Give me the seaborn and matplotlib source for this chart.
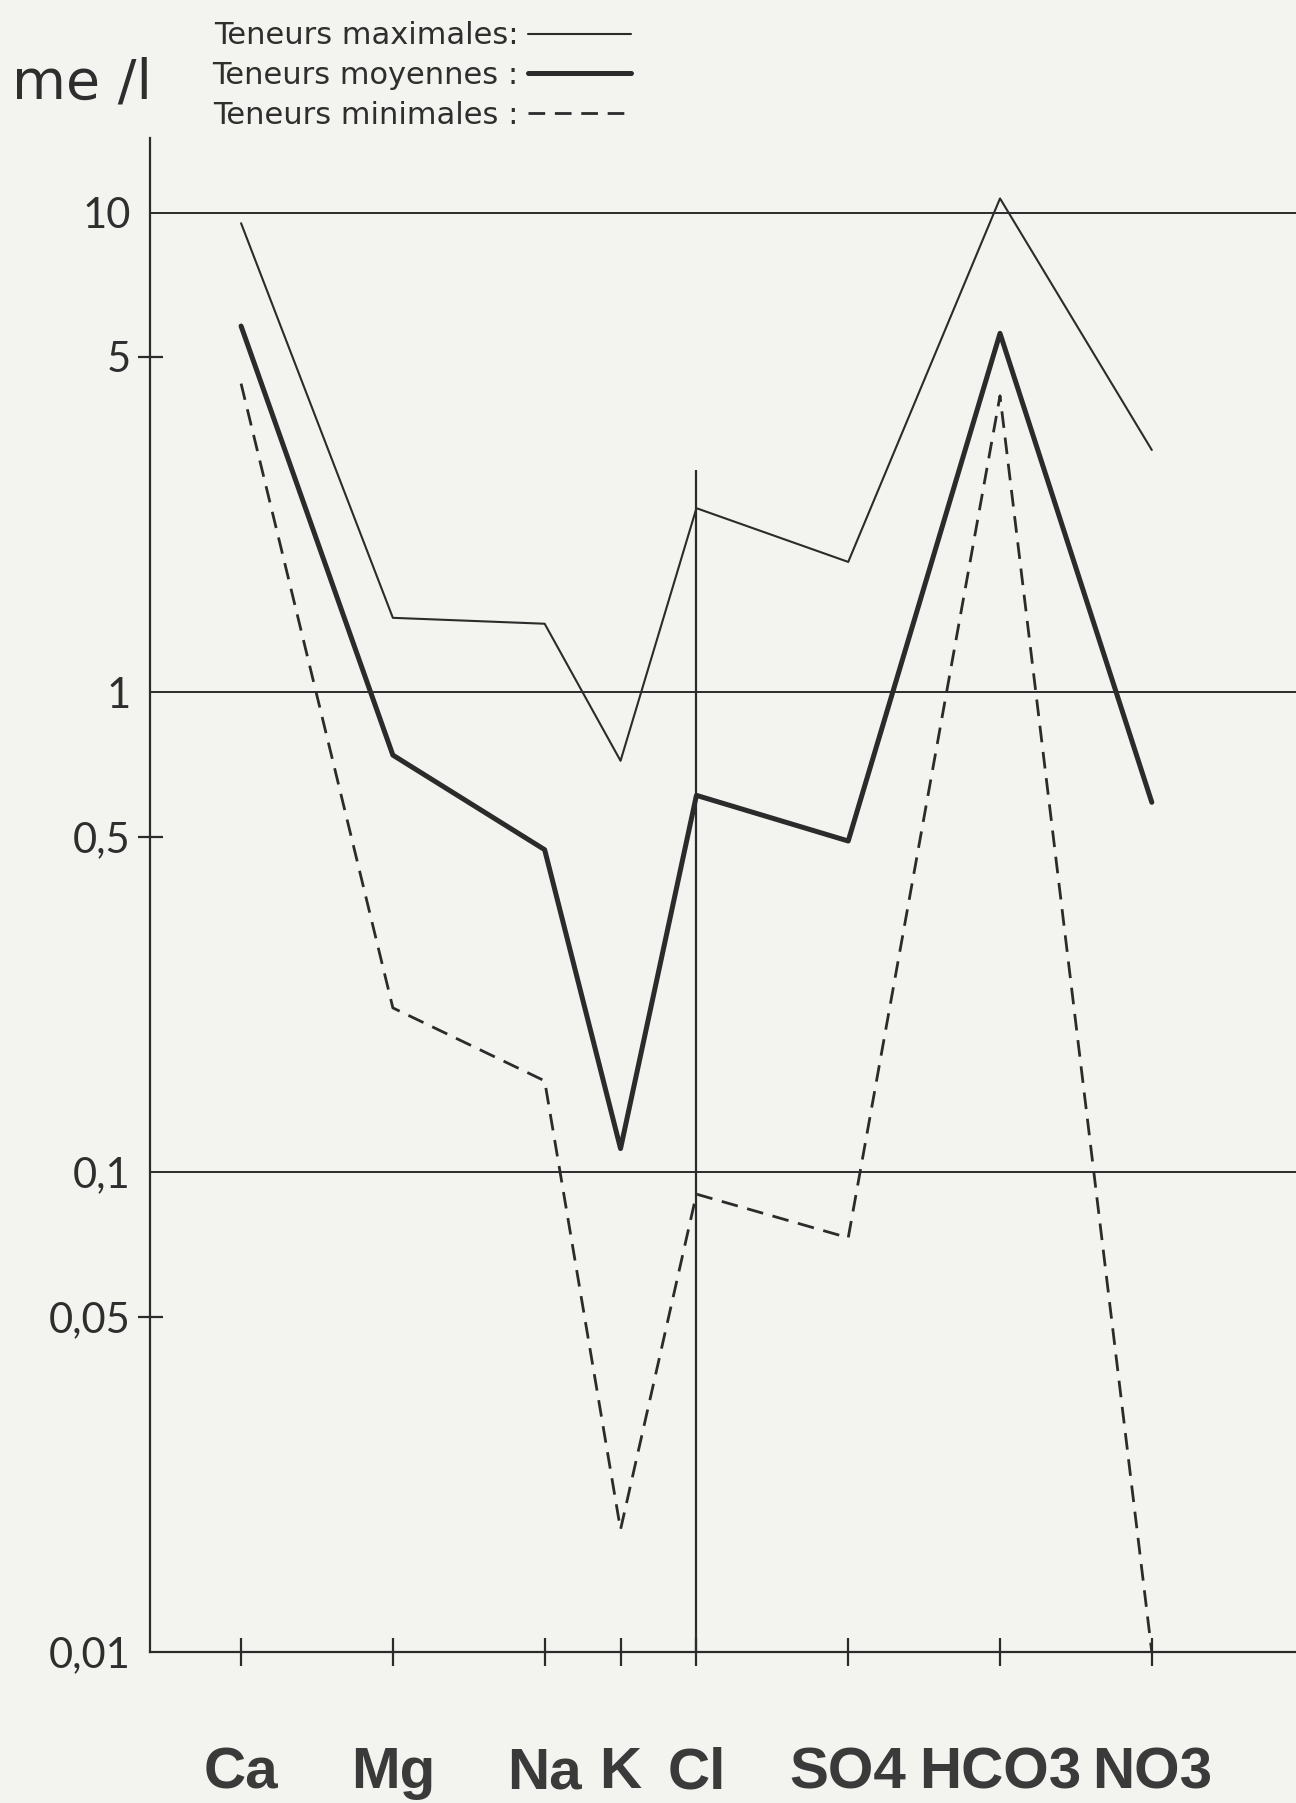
import numpy as np
import pandas as pd
import matplotlib.pyplot as plt
import seaborn as sns
from matplotlib.ticker import FixedLocator, NullFormatter

# Diagramme de Schoeller - teneurs en me/l

ions = ["Ca", "Mg", "Na", "K", "Cl", "SO4", "HCO3", "NO3"]
ion_pos = [0, 2, 4, 5, 6, 8, 10, 12]

teneurs_max = [9.5, 1.43, 1.39, 0.72, 2.42, 1.87, 10.7, 3.2]
teneurs_moy = [5.8, 0.74, 0.47, 0.112, 0.61, 0.49, 5.6, 0.59]
teneurs_min = [4.4, 0.22, 0.155, 0.018, 0.09, 0.073, 4.15, 0.01]

y_ticks = [0.01, 0.05, 0.1, 0.5, 1, 5, 10]
y_labels = ["0,01", "0,05", "0,1", "0,5", "1", "5", "10"]
y_marks = [0.05, 0.5, 5]
grid_levels = [0.1, 1, 10]

paper = "#f3f4ef"
ink = "#2b2b2b"

sns.set_style("white")
plt.rcParams["font.family"] = ["Lato", "DejaVu Sans"]

fig = plt.figure(figsize=(12.96, 18.03), dpi=100, facecolor=paper)
ax = fig.add_axes([150 / 1296, 1 - 1652 / 1803, 1 - 150 / 1296, (1652 - 138) / 1803])
ax.set_facecolor(paper)

df = pd.DataFrame({"pos": ion_pos, "max": teneurs_max, "moy": teneurs_moy, "min": teneurs_min})

sns.lineplot(data=df, x="pos", y="max", ax=ax, color=ink, linewidth=1.5,
             label="Teneurs maximales:")
sns.lineplot(data=df, x="pos", y="moy", ax=ax, color=ink, linewidth=3.6,
             label="Teneurs moyennes :")
sns.lineplot(data=df, x="pos", y="min", ax=ax, color=ink, linewidth=2.0,
             linestyle=(0, (6, 3.5)), label="Teneurs minimales :")

ax.set_yscale("log")
ax.set_ylim(0.01, 14.3)
ax.set_xlim(-1.2, 13.9)

for lev in grid_levels:
    ax.axhline(lev, color=ink, linewidth=1.4, zorder=1)
# axe separant cations et anions
ax.vlines(ion_pos[ions.index("Cl")], 0.01, 2.9, color=ink, linewidth=1.6)

for s in ["top", "right"]:
    ax.spines[s].set_visible(False)
for s in ["left", "bottom"]:
    ax.spines[s].set_color(ink)
    ax.spines[s].set_linewidth(1.6)

ax.yaxis.set_major_locator(FixedLocator(y_ticks))
ax.set_yticklabels(y_labels)
ax.yaxis.set_minor_locator(FixedLocator(y_marks))
ax.yaxis.set_minor_formatter(NullFormatter())
ax.yaxis.remove_overlapping_locs = False
ax.tick_params(axis="y", which="both", left=True)
ax.tick_params(axis="y", which="major", length=0, pad=14, labelsize=30,
               labelcolor="#2e2e2e")
ax.tick_params(axis="y", which="minor", length=18, width=1.6, color=ink,
               direction="inout")

ax.set_xticks(ion_pos)
ax.set_xticklabels(ions, fontfamily="Liberation Sans", fontweight="bold",
                   fontsize=42, color="#3a3a3a")
ax.tick_params(axis="x", bottom=True, length=20, width=1.6, color=ink,
               direction="inout", pad=58)

ax.set_xlabel("")
ax.set_ylabel("")

fig.text(12 / 1296, 1 - 84 / 1803, "me /l", fontsize=40, color="#2e2e2e",
         family="DejaVu Sans", va="center", ha="left")

leg = ax.legend(loc="upper left", bbox_to_anchor=(197 / 1296, 1 - 6 / 1803),
                bbox_transform=fig.transFigure, frameon=False, markerfirst=False,
                prop={"family": "DejaVu Sans", "size": 22},
                handlelength=3.4, handletextpad=0.3,
                labelspacing=0.35, borderpad=0)
for t in leg.get_texts():
    t.set_color("#2e2e2e")

fig.savefig("out.png", dpi=100, facecolor=paper)
